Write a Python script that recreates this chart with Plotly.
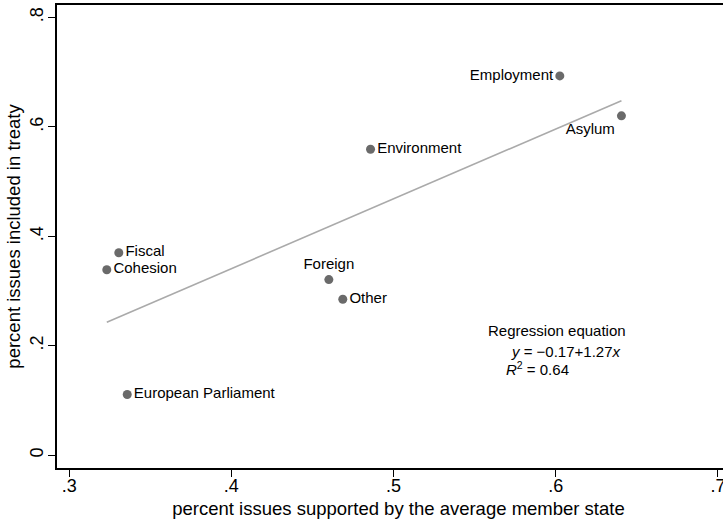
import numpy as np
import plotly.graph_objects as go

labels = ["Employment", "Asylum", "Environment", "Fiscal", "Cohesion",
          "Foreign", "Other", "European Parliament"]
x_support = [0.6025, 0.6405, 0.4858, 0.3306, 0.3232, 0.4601, 0.4687, 0.3358]
y_included = [0.693, 0.620, 0.559, 0.370, 0.339, 0.321, 0.285, 0.111]
label_pos = ["middle left", "bottom left", "middle right", "middle right",
             "middle right", "top center", "middle right", "middle right"]

x_ticks = [0.3, 0.4, 0.5, 0.6, 0.7]
x_ticktext = [".3", ".4", ".5", ".6", ".7"]
y_ticks = [0, 0.2, 0.4, 0.6, 0.8]
y_ticktext = ["0", ".2", ".4", ".6", ".8"]

eq_lines = ["Regression equation",
            "<i>y</i> = \u22120.17+1.27<i>x</i>",
            "<i>R</i><sup>2</sup> = 0.64"]

slope, intercept = np.polyfit(x_support, y_included, 1)
fx = np.array([min(x_support), max(x_support)])
fy = intercept + slope * fx

FONT = "Liberation Sans, Arial, Helvetica, sans-serif"

fig = go.Figure()
fig.add_trace(go.Scatter(x=fx, y=fy, mode="lines",
                         line=dict(color="#aaaaaa", width=1.6),
                         hoverinfo="skip", showlegend=False))
fig.add_trace(go.Scatter(x=x_support, y=y_included, mode="markers+text",
                         text=labels, textposition=label_pos,
                         textfont=dict(family=FONT, size=15, color="black"),
                         marker=dict(color="#6a6a6a", size=9),
                         showlegend=False))

ann_pos = [(0.5572, 0.2283), (0.5709, 0.1905), (0.5678, 0.159)]
for (ax, ay), t in zip(ann_pos, eq_lines):
    fig.add_annotation(x=ax, y=ay, text=t, showarrow=False, xanchor="left",
                       yanchor="middle",
                       font=dict(family=FONT, size=15, color="black"))

fig.update_layout(
    width=740, height=521,
    margin=dict(l=57, r=0, t=5, b=53),
    paper_bgcolor="white", plot_bgcolor="white",
    font=dict(family=FONT, color="black"),
    xaxis=dict(range=[0.2925, 0.7136], tickvals=x_ticks, ticktext=x_ticktext,
               automargin=False, ticklabeloverflow="allow",
               ticklabelstandoff=-6,
               showgrid=False, zeroline=False, showline=True, mirror=True,
               linecolor="black", linewidth=1.5, ticks="outside", ticklen=7,
               tickcolor="black", tickfont=dict(size=18),
               title=dict(text="percent issues supported by the average member state",
                          font=dict(size=18.5), standoff=7)),
    yaxis=dict(range=[-0.0232, 0.8225], tickvals=y_ticks, ticktext=y_ticktext,
               automargin=False, ticklabeloverflow="allow",
               ticklabelstandoff=-2,
               showgrid=False, zeroline=False, showline=True, mirror=False,
               linecolor="black", linewidth=1.5, ticks="outside", ticklen=7,
               tickcolor="black", tickangle=-90, tickfont=dict(size=18),
               title=dict(text="percent issues included in treaty",
                          font=dict(size=18.5), standoff=2)),
)

fig.write_html("out.html", config={"displayModeBar": False},
               post_script="document.body.style.margin='0';document.body.style.overflow='hidden';")
